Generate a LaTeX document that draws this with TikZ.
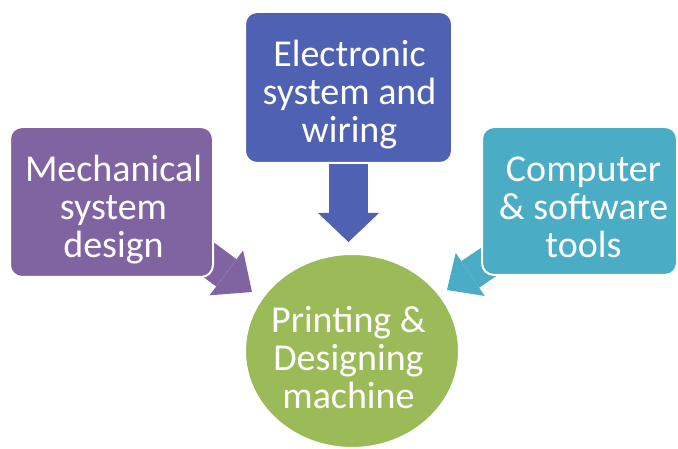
\documentclass[tikz,border=0pt]{standalone}
\usepackage{fontspec}
\setmainfont{Carlito}
\usetikzlibrary{arrows.meta,calc,shapes.geometric}
\pgfdeclarelayer{bg}\pgfsetlayers{bg,main}
\definecolor{cpurple}{HTML}{8064A2}
\definecolor{cblue}{HTML}{4F61B3}
\definecolor{cteal}{HTML}{4BACC6}
\definecolor{cgreen}{HTML}{9BBB59}
\begin{document}
\begin{tikzpicture}[x=1pt,y=-1pt,
  box/.style={rectangle, rounded corners=12pt, draw=white, line width=2pt, inner sep=0pt},
  txt/.style={text=white, font=\fontsize{38}{38}\selectfont, align=center, inner sep=0pt},
  blockarrow/.style={line cap=butt}
]
\useasboundingbox (0,0) rectangle (678,449);

\node[box, fill=cpurple, minimum width=203pt, minimum height=150pt] (mech) at (111.5,202) {};
\node[box, fill=cblue, minimum width=207pt, minimum height=151pt] (elec) at (348.5,87.5) {};
\node[box, fill=cteal, minimum width=195pt, minimum height=148pt] (comp) at (579.5,201) {};
\node[ellipse, fill=cgreen, draw=white, line width=2pt, minimum width=214pt, minimum height=194pt, inner sep=0pt] (print) at (352,351) {};

\node[txt] (mechtxt) at (113.5,210) {Mechanical\\system\\design};
\node[txt] (electxt) at (349.5,95) {Electronic\\system and\\wiring};
\node[txt] (comptxt) at (583.5,207.5) {Computer\\\& software\\tools};
\node[txt] (printtxt) at (348.5,358) {Printing \&\\Designing\\machine};

\coordinate (mtip) at (252,292);
\coordinate (etip) at (348.5,242);
\coordinate (ctip) at (447,290);

\begin{pgfonlayer}{bg}
\draw[blockarrow, cpurple, line width=34pt, -{Triangle[length=32pt,width=56pt,line width=0pt]}] ($(mech.south east)+(-17,-27)$) -- (mtip);
\draw[blockarrow, cblue, line width=39pt, -{Triangle[length=29pt,width=61pt,line width=0pt]}] (elec.center) -- (etip);
\draw[blockarrow, cteal, line width=32pt, -{Triangle[length=28pt,width=52pt,line width=0pt]}] (comp.center) -- (ctip);
\end{pgfonlayer}
\end{tikzpicture}
\end{document}
